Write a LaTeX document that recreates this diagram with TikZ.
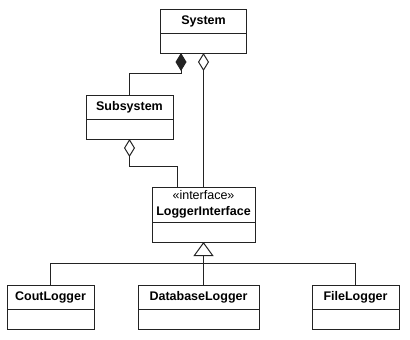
\documentclass[tikz,border=0pt]{standalone}
\usepackage{fontspec}
\setmainfont{Liberation Sans}
\usepackage{tikz}
\usetikzlibrary{arrows.meta, positioning}
\definecolor{umlline}{RGB}{35,35,35}
\tikzset{
  head/.style={rectangle, draw=umlline, fill=white, minimum height=24pt,
    inner sep=0pt, outer sep=0pt, font=\fontsize{12.5}{15}\selectfont\bfseries,
    line width=1pt},
  body/.style={rectangle, draw=umlline, fill=white, minimum height=20pt,
    inner sep=0pt, outer sep=0pt, line width=1pt},
  line/.style={line width=1pt, color=umlline},
  comp/.style={{Diamond[length=18pt, width=11pt]}-, line width=1pt, color=umlline},
  aggr/.style={{Diamond[open, length=18pt, width=11pt]}-, line width=1pt, color=umlline},
  gen/.style={{Triangle[open, length=14pt, width=20pt]}-, line width=1pt, color=umlline}
}

\begin{document}
\begin{tikzpicture}[x=1pt, y=-1pt]
  \useasboundingbox (0,0) rectangle (410,340);

  % System
  \node[head, minimum width=86pt] (system) at (203.5,21) {System};
  \node[body, minimum width=86pt, below=0pt of system] (systemb) {};

  % Subsystem
  \node[head, minimum width=87pt] (subsystem) at (129.5,107) {Subsystem};
  \node[body, minimum width=87pt, below=0pt of subsystem] (subsystemb) {};

  % LoggerInterface
  \node[head, minimum width=103pt, minimum height=35pt, align=center] (logger) at (203.5,204.5)
    {{\mdseries «interface»}\\[1pt]LoggerInterface};
  \node[body, minimum width=103pt, below=0pt of logger] (loggerb) {};

  % Loggers
  \node[head, minimum width=87pt] (cout) at (50.5,297) {CoutLogger};
  \node[body, minimum width=87pt, below=0pt of cout] (coutb) {};
  \node[head, minimum width=121pt] (database) at (198.5,297) {DatabaseLogger};
  \node[body, minimum width=121pt, below=0pt of database] (databaseb) {};
  \node[head, minimum width=87pt] (file) at (355.5,297) {FileLogger};
  \node[body, minimum width=87pt, below=0pt of file] (fileb) {};

  % Composition and aggregation
  \draw[comp] ([xshift=-22.5pt]systemb.south) -- ++(0,20) -| (subsystem.north);
  \draw[aggr] (systemb.south) -- (logger.north);
  \draw[aggr] (subsystemb.south) -- ++(0,27) -| ([xshift=-26.5pt]logger.north);

  % Generalization
  \draw[gen] (loggerb.south) -- ++(0,21) coordinate (split);
  \draw[line] (split) -| (cout.north);
  \draw[line] (split) -| (file.north);
  \draw[line] (split) -- (split |- database.north);
\end{tikzpicture}
\end{document}
